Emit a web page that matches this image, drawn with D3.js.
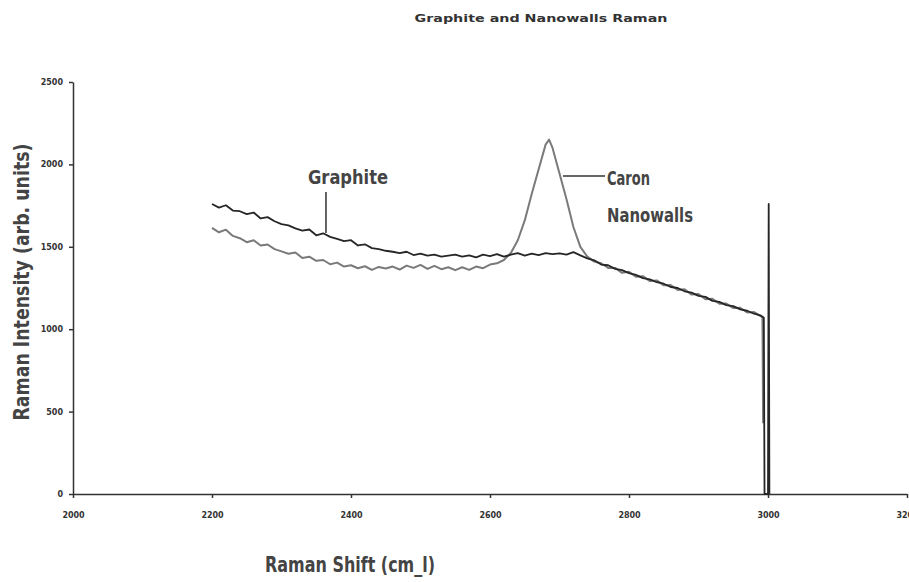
<!DOCTYPE html>
<html>
<head>
<meta charset="utf-8">
<script src="https://cdn.jsdelivr.net/npm/d3@7"></script>
<style>
  html, body { margin: 0; padding: 0; background: #fff; }
  svg { display: block; }
</style>
</head>
<body>
<svg id="chart" width="909" height="582"></svg>
<script>
// ---- data ----
const titleText = "Graphite and Nanowalls Raman";
const xLabel = "Raman Shift (cm_l)";
const yLabel = "Raman Intensity (arb. units)";
const xTicks = [2000, 2200, 2400, 2600, 2800, 3000, 3200];
const yTicks = [0, 500, 1000, 1500, 2000, 2500];

// Graphite trace: [Raman shift, intensity]
const graphite = [
  [2200,1760],[2210,1738],[2220,1752],[2230,1720],[2240,1716],[2250,1698],[2260,1708],[2270,1672],
  [2280,1680],[2290,1655],[2300,1638],[2310,1630],[2320,1612],[2330,1598],[2340,1605],[2350,1570],
  [2360,1582],[2370,1560],[2380,1548],[2390,1535],[2400,1540],[2410,1508],[2420,1515],[2430,1492],
  [2440,1486],[2450,1476],[2460,1470],[2470,1462],[2480,1470],[2490,1450],[2500,1458],[2510,1446],
  [2520,1452],[2530,1440],[2540,1446],[2550,1452],[2560,1440],[2570,1448],[2580,1436],[2590,1452],
  [2600,1444],[2610,1456],[2620,1440],[2630,1452],[2640,1462],[2650,1446],[2660,1458],[2670,1450],
  [2680,1462],[2690,1455],[2700,1460],[2710,1452],[2720,1468],[2730,1448],[2740,1430],[2750,1418],
  [2760,1392],[2770,1388],[2780,1366],[2790,1358],[2800,1340],[2810,1330],[2820,1310],[2830,1302],
  [2840,1285],[2850,1276],[2860,1256],[2870,1250],[2880,1230],[2890,1222],[2900,1202],[2910,1196],
  [2920,1172],[2930,1166],[2940,1146],[2950,1140],[2960,1120],[2970,1112],[2980,1094],[2990,1082],
  [2994,1070],[2995,0],[3000,0],[3001,1760],[3002,0]
];

// Carbon nanowalls trace: [Raman shift, intensity]
const nanowalls = [
  [2200,1615],[2210,1588],[2220,1604],[2230,1566],[2240,1552],[2250,1528],[2260,1540],[2270,1508],
  [2280,1514],[2290,1486],[2300,1472],[2310,1458],[2320,1465],[2330,1432],[2340,1440],[2350,1415],
  [2360,1420],[2370,1394],[2380,1404],[2390,1380],[2400,1388],[2410,1370],[2420,1382],[2430,1360],
  [2440,1378],[2450,1368],[2460,1380],[2470,1362],[2480,1386],[2490,1372],[2500,1390],[2510,1366],
  [2520,1384],[2530,1364],[2540,1376],[2550,1358],[2560,1376],[2570,1360],[2580,1380],[2590,1370],
  [2600,1392],[2610,1400],[2620,1420],[2630,1462],[2640,1540],[2650,1660],[2660,1820],[2670,1970],
  [2680,2120],[2685,2150],[2690,2100],[2700,1945],[2710,1790],[2720,1620],[2730,1500],[2740,1440],
  [2750,1410],[2760,1400],[2770,1372],[2780,1372],[2790,1342],[2800,1348],[2810,1318],[2820,1322],
  [2830,1292],[2840,1296],[2850,1266],[2860,1268],[2870,1238],[2880,1242],[2890,1210],[2900,1214],
  [2910,1182],[2920,1185],[2930,1155],[2940,1156],[2950,1128],[2960,1130],[2970,1102],[2980,1104],
  [2990,1078],[2992,1072],[2993,430]
];

// ---- drawing ----
const svg = d3.select("#chart");
const x = d3.scaleLinear().domain([2000, 3200]).range([73, 907]);
const y = d3.scaleLinear().domain([0, 2500]).range([494, 82]);

const condensed = "'Liberation Sans Narrow', 'DejaVu Sans Condensed', 'Roboto Condensed', sans-serif";

// title
svg.append("text")
  .attr("x", 541).attr("y", 22)
  .attr("text-anchor", "middle")
  .attr("font-family", "'DejaVu Sans', sans-serif")
  .attr("font-weight", "bold").attr("font-size", 10)
  .attr("fill", "#333")
  .attr("textLength", 253).attr("lengthAdjust", "spacingAndGlyphs")
  .text(titleText);

// axes
const xAxis = d3.axisBottom(x).tickValues(xTicks).tickSize(4).tickSizeOuter(0).tickPadding(14)
  .tickFormat(d3.format("d"));
const yAxis = d3.axisLeft(y).tickValues(yTicks).tickSize(4).tickSizeOuter(0).tickPadding(6)
  .tickFormat(d3.format("d"));

const gx = svg.append("g").attr("transform", "translate(0,494)").call(xAxis);
const gy = svg.append("g").attr("transform", "translate(73,0)").call(yAxis);

[gx, gy].forEach(g => {
  g.select(".domain").attr("stroke", "#333").attr("stroke-width", 1.5);
  g.selectAll(".tick line").attr("stroke", "#333").attr("stroke-width", 1.5);
  g.selectAll(".tick text")
    .attr("font-family", "'DejaVu Sans', sans-serif")
    .attr("font-weight", "bold").attr("font-size", 8)
    .attr("fill", "#333");
});

// lines
const line = d3.line().x(d => x(d[0])).y(d => y(d[1]));

svg.append("path").datum(nanowalls)
  .attr("d", line).attr("fill", "none")
  .attr("stroke", "#7a7a7a").attr("stroke-width", 2).attr("stroke-linejoin", "round");

svg.append("path").datum(graphite)
  .attr("d", line).attr("fill", "none")
  .attr("stroke", "#262626").attr("stroke-width", 1.8).attr("stroke-linejoin", "round");

// annotations
function label(txt, cx, cy, len) {
  svg.append("text")
    .attr("x", cx).attr("y", cy)
    .attr("font-family", condensed)
    .attr("font-weight", "bold").attr("font-size", 20)
    .attr("fill", "#444")
    .attr("textLength", len).attr("lengthAdjust", "spacingAndGlyphs")
    .text(txt);
}
label("Graphite", 308, 184, 80);
label("Caron", 607, 185, 43);
label("Nanowalls", 607, 222, 86);

svg.append("line")
  .attr("x1", x(2364)).attr("x2", x(2364))
  .attr("y1", 192).attr("y2", 233)
  .attr("stroke", "#333").attr("stroke-width", 1.5);
svg.append("line")
  .attr("x1", 563).attr("x2", 605)
  .attr("y1", 176).attr("y2", 176)
  .attr("stroke", "#333").attr("stroke-width", 1.5);

// axis titles
svg.append("text")
  .attr("transform", "translate(29,282) rotate(-90)")
  .attr("text-anchor", "middle")
  .attr("font-family", condensed)
  .attr("font-weight", "bold").attr("font-size", 21)
  .attr("fill", "#444")
  .attr("textLength", 277).attr("lengthAdjust", "spacingAndGlyphs")
  .text(yLabel);

svg.append("text")
  .attr("x", 350).attr("y", 572)
  .attr("text-anchor", "middle")
  .attr("font-family", condensed)
  .attr("font-weight", "bold").attr("font-size", 21)
  .attr("fill", "#444")
  .attr("textLength", 170).attr("lengthAdjust", "spacingAndGlyphs")
  .text(xLabel);
</script>
</body>
</html>
